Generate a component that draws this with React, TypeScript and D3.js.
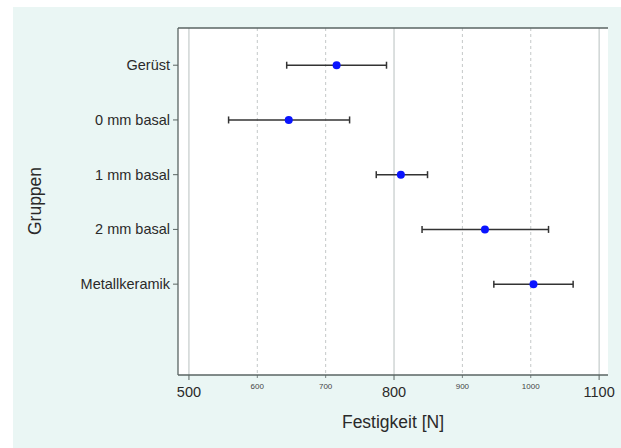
import React from "react";
import * as d3 from "d3";

const groups = ["Gerüst", "0 mm basal", "1 mm basal", "2 mm basal", "Metallkeramik"];
const means = [716, 646, 810, 933, 1004];
const lows = [643, 558, 774, 841, 946];
const highs = [789, 735, 849, 1026, 1062];
const majorTicks = [500, 800, 1100];
const minorTicks = [600, 700, 900, 1000];

const W = 621;
const H = 448;
const font = "'Liberation Sans', Arial, Helvetica, sans-serif";

export default function App() {
  const left = 178, right = 608, top = 28, bottom = 375;
  const x = d3.scaleLinear().domain([484, 1113]).range([left, right]);
  const y = d3.scaleLinear().domain([0.32, 6.66]).range([top, bottom]);
  const axisColor = "#5a6563";
  return (
    <svg width={W} height={H} style={{ position: "absolute", left: 0, top: 0 }}>
      <rect x={0} y={0} width={W} height={H} fill="#ffffff" />
      <rect x={13} y={7} width={W - 13} height={H - 7} fill="#eaf6f4" />
      <rect x={left} y={top} width={right - left} height={bottom - top} fill="#ffffff" />
      {minorTicks.map((t) => (
        <line key={"mg" + t} x1={x(t)} x2={x(t)} y1={top} y2={bottom} stroke="#c4c8c8" strokeWidth={1} strokeDasharray="3,3" />
      ))}
      {majorTicks.map((t) => (
        <line key={"Mg" + t} x1={x(t)} x2={x(t)} y1={top} y2={bottom} stroke="#b8c0bf" strokeWidth={1} />
      ))}
      <line x1={left} x2={right} y1={top} y2={top} stroke={axisColor} strokeWidth={1.3} />
      <line x1={left} x2={left} y1={top} y2={bottom} stroke={axisColor} strokeWidth={1.3} />
      <line x1={left} x2={right} y1={bottom} y2={bottom} stroke={axisColor} strokeWidth={1.3} />
      {majorTicks.map((t) => (
        <g key={"Mt" + t}>
          <line x1={x(t)} x2={x(t)} y1={bottom} y2={bottom + 5} stroke={axisColor} strokeWidth={1} />
          <text x={x(t)} y={bottom + 21.5} fontSize={14.5} fontFamily={font} fill="#2a2a2a" textAnchor="middle">{t}</text>
        </g>
      ))}
      {minorTicks.map((t) => (
        <g key={"mt" + t}>
          <line x1={x(t)} x2={x(t)} y1={bottom} y2={bottom + 3} stroke={axisColor} strokeWidth={0.8} />
          <text x={x(t)} y={bottom + 13.5} fontSize={8} fontFamily={font} fill="#444" textAnchor="middle">{t}</text>
        </g>
      ))}
      {groups.map((g, i) => (
        <g key={g}>
          <line x1={left - 5} x2={left} y1={y(i + 1)} y2={y(i + 1)} stroke={axisColor} strokeWidth={1} />
          <text x={left - 8} y={y(i + 1) + 5} fontSize={14.5} fontFamily={font} fill="#2a2a2a" textAnchor="end">{g}</text>
        </g>
      ))}
      <text x={393} y={428} fontSize={17.5} fontFamily={font} fill="#2a2a2a" textAnchor="middle">Festigkeit [N]</text>
      <text transform={`translate(41,201) rotate(-90)`} fontSize={17.5} fontFamily={font} fill="#2a2a2a" textAnchor="middle">Gruppen</text>
      {groups.map((g, i) => {
        const cy = y(i + 1);
        return (
          <g key={"e" + g}>
            <line x1={x(lows[i])} x2={x(highs[i])} y1={cy} y2={cy} stroke="#333" strokeWidth={1.5} />
            <line x1={x(lows[i])} x2={x(lows[i])} y1={cy - 3.5} y2={cy + 3.5} stroke="#333" strokeWidth={1.5} />
            <line x1={x(highs[i])} x2={x(highs[i])} y1={cy - 3.5} y2={cy + 3.5} stroke="#333" strokeWidth={1.5} />
            <circle cx={x(means[i])} cy={cy} r={4} fill="#0a14ff" />
          </g>
        );
      })}
    </svg>
  );
}
